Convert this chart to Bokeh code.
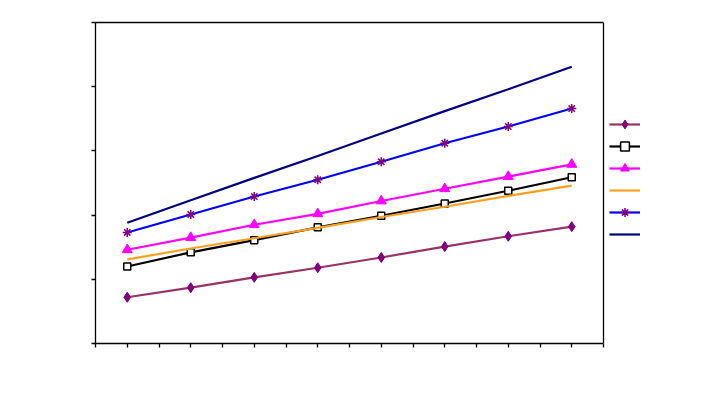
from bokeh.plotting import figure
from bokeh.models import FixedTicker, Range1d, Legend, LegendItem, LinearAxis, Span
from bokeh.embed import file_html
from bokeh.resources import INLINE

categories = ["1", "2", "3", "4", "5", "6", "7", "8"]
series_names = ["Series 1", "Series 2", "Series 3", "Series 4", "Series 5", "Series 6"]
s1 = [7.2, 8.7, 10.3, 11.8, 13.4, 15.1, 16.7, 18.2]
s2 = [12.0, 14.2, 16.1, 18.1, 19.9, 21.8, 23.8, 25.9]
s3 = [14.6, 16.5, 18.5, 20.2, 22.2, 24.1, 26.0, 27.9]
s4 = [13.1, 14.8, 16.4, 18.0, 19.7, 21.3, 23.0, 24.6]
s5 = [17.3, 20.1, 22.9, 25.5, 28.3, 31.2, 33.8, 36.6]
s6 = [18.8, 22.3, 25.8, 29.2, 32.7, 36.2, 39.6, 43.1]
y_ticks = [0, 10, 20, 30, 40, 50]

n = len(categories)
x = [i + 0.5 for i in range(n)]

W, H = 714, 387
left, right_pad, top, bottom = 95, 4, 22, 44
plot_px = 508  # width of the plotted box in pixels
frame_w = W - left - right_pad
x_end = n * frame_w / plot_px

p = figure(width=W, height=H, output_backend="svg", toolbar_location=None,
           x_range=Range1d(0, x_end), y_range=Range1d(0, 50),
           min_border_left=left, min_border_right=right_pad, min_border_top=top,
           min_border_bottom=bottom)
p.background_fill_color = "white"
p.border_fill_color = "white"
p.outline_line_color = None
p.xgrid.visible = False
p.ygrid.visible = False

bottom_axis = p.xaxis[0]
left_axis = p.yaxis[0]
bottom_axis.ticker = FixedTicker(ticks=[i * 0.5 for i in range(2 * n + 1)])
bottom_axis.bounds = (0, n)
left_axis.ticker = FixedTicker(ticks=y_ticks)

top_axis = LinearAxis(bounds=(0, n), ticker=FixedTicker(ticks=[0, n]))
p.add_layout(top_axis, "above")

for ax in (bottom_axis, left_axis, top_axis):
    ax.axis_line_color = "black"
    ax.axis_line_width = 1.3
    ax.major_tick_line_color = "black"
    ax.major_tick_line_width = 1.3
    ax.major_tick_out = 4
    ax.major_tick_in = 0
    ax.minor_tick_line_color = None
    ax.major_label_text_color = "white"
    ax.major_label_text_font_size = "9px"
top_axis.major_tick_line_color = None
top_axis.major_label_text_color = None

p.add_layout(Span(location=n, dimension="height", line_color="black", line_width=1.3))

items = []
r1l = p.line(x, s1, line_color="#993366", line_width=2.2)
r1m = p.scatter(x, s1, marker="diamond", size=10, fill_color="#800080", line_color="#800080")
items.append(LegendItem(label=series_names[0], renderers=[r1l, r1m]))

r2l = p.line(x, s2, line_color="black", line_width=2.2)
r2m = p.scatter(x, s2, marker="square", size=7, fill_color="white", line_color="black", line_width=1.5)
items.append(LegendItem(label=series_names[1], renderers=[r2l, r2m]))

r3l = p.line(x, s3, line_color="#FF00FF", line_width=2.2)
r3m = p.scatter(x, s3, marker="triangle", size=10, fill_color="#FF00FF", line_color="#FF00FF")
items.append(LegendItem(label=series_names[2], renderers=[r3l, r3m]))

r4l = p.line(x, s4, line_color="#FFA020", line_width=2.2)
items.append(LegendItem(label=series_names[3], renderers=[r4l]))

r5l = p.line(x, s5, line_color="#0000FF", line_width=2.2)
r5m = p.scatter(x, s5, marker="asterisk", size=9, line_color="#800080", line_width=1.5)
items.append(LegendItem(label=series_names[4], renderers=[r5l, r5m]))

r6l = p.line(x, s6, line_color="#000080", line_width=2.2)
items.append(LegendItem(label=series_names[5], renderers=[r6l]))

legend = Legend(items=items, location=(plot_px + 6, 98), padding=0, margin=0, spacing=0,
                glyph_width=31, glyph_height=22, label_height=22, label_standoff=6,
                label_text_color="white", label_text_font_size="9px",
                border_line_color=None, background_fill_alpha=0)
p.add_layout(legend, "center")

open("out.html", "w").write(file_html(p, INLINE))
